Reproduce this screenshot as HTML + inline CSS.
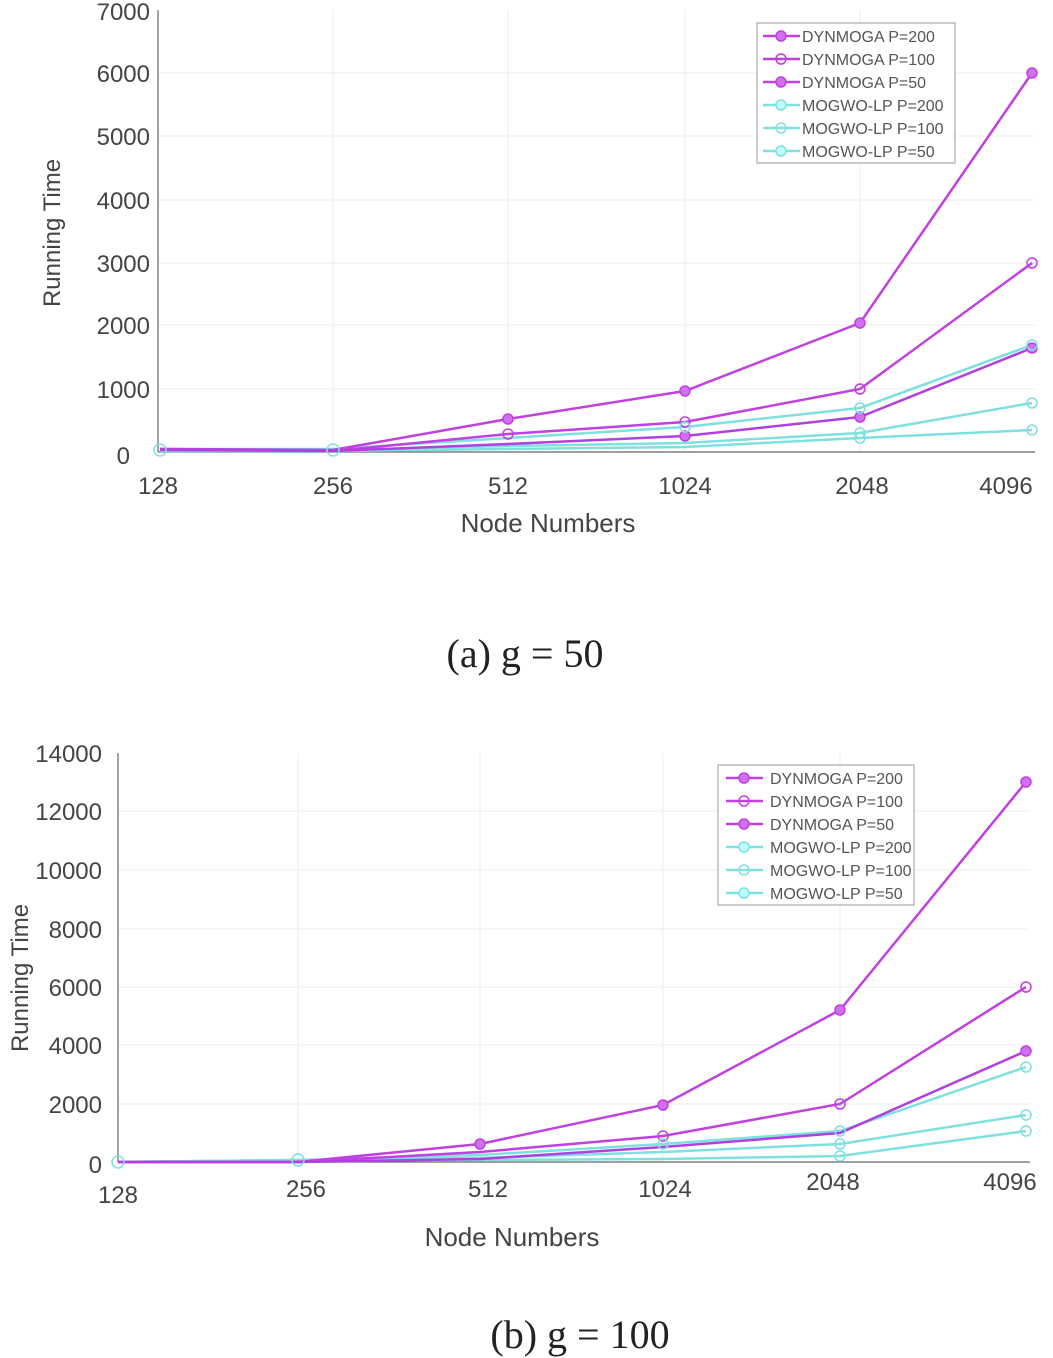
<!DOCTYPE html>
<html><head><style>body{margin:0;background:#fff}svg{display:block}</style></head>
<body>
<svg width="1053" height="1358" xmlns="http://www.w3.org/2000/svg" font-family="Liberation Sans, sans-serif">
<!-- Chart A -->
<g stroke="#eee" stroke-width="1">
<line x1="158" y1="73" x2="1035" y2="73"/><line x1="158" y1="136" x2="1035" y2="136"/><line x1="158" y1="200" x2="1035" y2="200"/><line x1="158" y1="263" x2="1035" y2="263"/><line x1="158" y1="325" x2="1035" y2="325"/><line x1="158" y1="389" x2="1035" y2="389"/>
<line x1="333" y1="10" x2="333" y2="452"/><line x1="508" y1="10" x2="508" y2="452"/><line x1="685" y1="10" x2="685" y2="452"/><line x1="860" y1="10" x2="860" y2="452"/>
</g>
<g stroke="#666" stroke-width="1.2" fill="none"><line x1="158" y1="10" x2="158" y2="452"/><line x1="158" y1="452" x2="1035" y2="452"/></g>
<g font-size="24" fill="#444" text-anchor="end">
<text x="150" y="20">7000</text><text x="150" y="82">6000</text><text x="150" y="145">5000</text><text x="150" y="209">4000</text><text x="150" y="272">3000</text><text x="150" y="334">2000</text><text x="150" y="398">1000</text><text x="130" y="464">0</text>
</g>
<g font-size="24" fill="#444" text-anchor="middle">
<text x="158" y="494">128</text><text x="333" y="494">256</text><text x="508" y="494">512</text><text x="685" y="494">1024</text><text x="862" y="494">2048</text><text x="1006" y="494">4096</text>
<text x="548" y="532" font-size="26">Node Numbers</text>
<text transform="translate(60,233) rotate(-90)" font-size="24">Running Time</text>
</g>
<g fill="none" stroke-width="2.5">
<polyline stroke="#7fe0e0" points="160,449 333,449 508,438 685,427 860,408 1032,345"/>
<polyline stroke="#7fe0e0" points="160,450 333,450 508,446 685,443 860,433 1032,403"/>
<polyline stroke="#7fe0e0" points="160,451 333,451 508,449 685,447 860,438 1032,430"/>
<polyline stroke="#c040e0" points="160,449 333,450 508,419 685,391 860,323 1032,73"/>
<polyline stroke="#c040e0" points="160,449 333,451 508,434 685,422 860,389 1032,263"/>
<polyline stroke="#b040e0" points="160,450 333,451 508,444 685,436 860,417 1032,348"/>
</g>
<g fill="#d070f0" stroke="#c040e0" stroke-width="1.5">
<circle cx="508" cy="419" r="5"/><circle cx="685" cy="391" r="5"/><circle cx="860" cy="323" r="5"/><circle cx="1032" cy="73" r="5"/>
<circle cx="508" cy="434" r="5" fill="none"/><circle cx="685" cy="422" r="5" fill="none"/><circle cx="860" cy="389" r="5" fill="none"/><circle cx="1032" cy="263" r="5" fill="none"/>
<circle cx="685" cy="436" r="5"/><circle cx="860" cy="417" r="5"/><circle cx="1032" cy="348" r="5"/>
</g>
<g fill="none" stroke="#7fe0e0" stroke-width="1.5">
<circle cx="160" cy="450" r="6"/><circle cx="333" cy="450" r="6"/><circle cx="685" cy="427" r="5"/><circle cx="860" cy="408" r="5"/><circle cx="1032" cy="345" r="5"/><circle cx="1032" cy="403" r="5"/><circle cx="1032" cy="430" r="5"/><circle cx="860" cy="433" r="5"/><circle cx="860" cy="438" r="5"/>
</g>
<rect x="757" y="23" width="198" height="140" fill="#fff" stroke="#999"/>
<g stroke-width="2.5">
<line x1="763" y1="36" x2="800" y2="36" stroke="#c040e0"/><line x1="763" y1="59" x2="800" y2="59" stroke="#c040e0"/><line x1="763" y1="82" x2="800" y2="82" stroke="#c040e0"/>
<line x1="763" y1="105" x2="800" y2="105" stroke="#7fe0e0"/><line x1="763" y1="128" x2="800" y2="128" stroke="#7fe0e0"/><line x1="763" y1="151" x2="800" y2="151" stroke="#7fe0e0"/>
</g>
<g stroke-width="1.5">
<circle cx="781" cy="36" r="5" fill="#d070f0" stroke="#c040e0"/><circle cx="781" cy="59" r="5" fill="none" stroke="#c040e0"/><circle cx="781" cy="82" r="5" fill="#d070f0" stroke="#c040e0"/>
<circle cx="781" cy="105" r="5" fill="#bff" stroke="#7fe0e0"/><circle cx="781" cy="128" r="5" fill="none" stroke="#7fe0e0"/><circle cx="781" cy="151" r="5" fill="#bff" stroke="#7fe0e0"/>
</g>
<g font-size="16" fill="#555">
<text x="802" y="42">DYNMOGA P=200</text><text x="802" y="65">DYNMOGA P=100</text><text x="802" y="88">DYNMOGA P=50</text>
<text x="802" y="111">MOGWO-LP P=200</text><text x="802" y="134">MOGWO-LP P=100</text><text x="802" y="157">MOGWO-LP P=50</text>
</g>
<text x="525" y="667" font-family="Liberation Serif, serif" font-size="40" text-anchor="middle" fill="#222">(a) g = 50</text>

<!-- Chart B -->
<g stroke="#eee" stroke-width="1">
<line x1="118" y1="811" x2="1030" y2="811"/><line x1="118" y1="870" x2="1030" y2="870"/><line x1="118" y1="929" x2="1030" y2="929"/><line x1="118" y1="987" x2="1030" y2="987"/><line x1="118" y1="1045" x2="1030" y2="1045"/><line x1="118" y1="1104" x2="1030" y2="1104"/>
<line x1="298" y1="753" x2="298" y2="1162"/><line x1="480" y1="753" x2="480" y2="1162"/><line x1="663" y1="753" x2="663" y2="1162"/><line x1="840" y1="753" x2="840" y2="1162"/>
</g>
<g stroke="#666" stroke-width="1.2"><line x1="118" y1="753" x2="118" y2="1162"/><line x1="118" y1="1162" x2="1030" y2="1162"/></g>
<g font-size="24" fill="#444" text-anchor="end">
<text x="102" y="762">14000</text><text x="102" y="820">12000</text><text x="102" y="879">10000</text><text x="102" y="938">8000</text><text x="102" y="996">6000</text><text x="102" y="1054">4000</text><text x="102" y="1113">2000</text><text x="102" y="1173">0</text>
</g>
<g font-size="24" fill="#444" text-anchor="middle">
<text x="118" y="1203">128</text><text x="306" y="1197">256</text><text x="488" y="1197">512</text><text x="665" y="1197">1024</text><text x="833" y="1190">2048</text><text x="1010" y="1190">4096</text>
<text x="512" y="1246" font-size="26">Node Numbers</text>
<text transform="translate(28,978) rotate(-90)" font-size="24">Running Time</text>
</g>
<g fill="none" stroke-width="2.5">
<polyline stroke="#7fe0e0" points="118,1162 298,1160 480,1155 663,1144 840,1131 1026,1067"/>
<polyline stroke="#7fe0e0" points="118,1162 298,1160 480,1158 663,1152 840,1144 1026,1115"/>
<polyline stroke="#7fe0e0" points="118,1162 298,1160 480,1160 663,1159 840,1156 1026,1131"/>
<polyline stroke="#c040e0" points="118,1162 298,1162 480,1144 663,1105 840,1010 1026,782"/>
<polyline stroke="#c040e0" points="118,1162 298,1162 480,1152 663,1136 840,1104 1026,987"/>
<polyline stroke="#b040e0" points="118,1162 298,1162 480,1159 663,1147 840,1133 1026,1051"/>
</g>
<g fill="#d070f0" stroke="#c040e0" stroke-width="1.5">
<circle cx="480" cy="1144" r="5"/><circle cx="663" cy="1105" r="5"/><circle cx="840" cy="1010" r="5"/><circle cx="1026" cy="782" r="5"/>
<circle cx="663" cy="1136" r="5" fill="none"/><circle cx="840" cy="1104" r="5" fill="none"/><circle cx="1026" cy="987" r="5" fill="none"/>
<circle cx="1026" cy="1051" r="5"/>
</g>
<g fill="none" stroke="#7fe0e0" stroke-width="1.5">
<circle cx="118" cy="1162" r="6"/><circle cx="298" cy="1160" r="6"/><circle cx="840" cy="1131" r="5"/><circle cx="1026" cy="1067" r="5"/><circle cx="1026" cy="1115" r="5"/><circle cx="1026" cy="1131" r="5"/><circle cx="840" cy="1144" r="5"/><circle cx="840" cy="1156" r="5"/><circle cx="663" cy="1144" r="5"/>
</g>
<rect x="718" y="765" width="196" height="140" fill="#fff" stroke="#999"/>
<g stroke-width="2.5">
<line x1="726" y1="778" x2="763" y2="778" stroke="#c040e0"/><line x1="726" y1="801" x2="763" y2="801" stroke="#c040e0"/><line x1="726" y1="824" x2="763" y2="824" stroke="#c040e0"/>
<line x1="726" y1="847" x2="763" y2="847" stroke="#7fe0e0"/><line x1="726" y1="870" x2="763" y2="870" stroke="#7fe0e0"/><line x1="726" y1="893" x2="763" y2="893" stroke="#7fe0e0"/>
</g>
<g stroke-width="1.5">
<circle cx="744" cy="778" r="5" fill="#d070f0" stroke="#c040e0"/><circle cx="744" cy="801" r="5" fill="none" stroke="#c040e0"/><circle cx="744" cy="824" r="5" fill="#d070f0" stroke="#c040e0"/>
<circle cx="744" cy="847" r="5" fill="#bff" stroke="#7fe0e0"/><circle cx="744" cy="870" r="5" fill="none" stroke="#7fe0e0"/><circle cx="744" cy="893" r="5" fill="#bff" stroke="#7fe0e0"/>
</g>
<g font-size="16" fill="#555">
<text x="770" y="784">DYNMOGA P=200</text><text x="770" y="807">DYNMOGA P=100</text><text x="770" y="830">DYNMOGA P=50</text>
<text x="770" y="853">MOGWO-LP P=200</text><text x="770" y="876">MOGWO-LP P=100</text><text x="770" y="899">MOGWO-LP P=50</text>
</g>
<text x="580" y="1348" font-family="Liberation Serif, serif" font-size="40" text-anchor="middle" fill="#222">(b) g = 100</text>
</svg>
</body></html>
